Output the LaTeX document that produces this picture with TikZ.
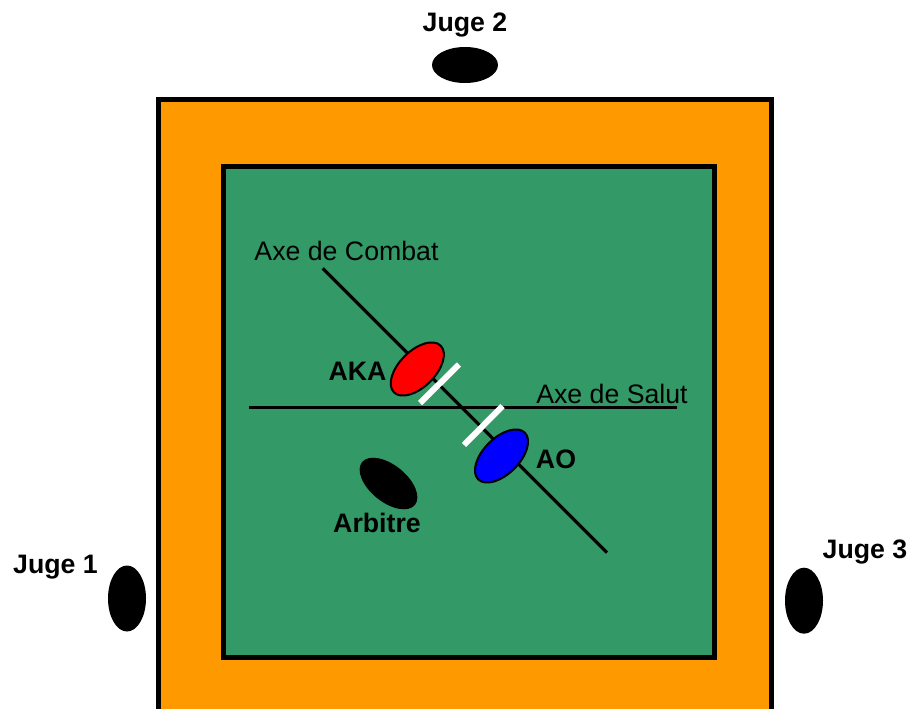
\documentclass[tikz,border=0pt]{standalone}
\usepackage{fontspec}
\setmainfont{Liberation Sans}
\usetikzlibrary{shapes.geometric}
\definecolor{matorange}{RGB}{255,153,0}
\definecolor{matgreen}{RGB}{51,153,102}
\begin{document}
\begin{tikzpicture}[x=1pt,y=-1pt,
  lbl/.style={font=\fontsize{26.7}{32}\selectfont, anchor=base, inner sep=0pt},
  blbl/.style={lbl, font=\fontsize{26.7}{32}\selectfont\bfseries},
  judge/.style={ellipse, fill=black, inner sep=0pt, outer sep=0pt, minimum width=38pt, minimum height=66pt},
  fighter/.style={ellipse, draw=black, line width=2pt, inner sep=0pt, outer sep=0pt, minimum width=66pt, minimum height=36pt, rotate=45},
  whitebar/.style={draw=white, line width=6pt},
  axis/.style={draw=black, line width=3.2pt}]
\useasboundingbox (0,0) rectangle (922,709);
\clip (0,0) rectangle (922,709);
% tatami
\fill[white] (0,0) rectangle (922,709);
\draw[fill=matorange, line width=5pt] (158.5,99.5) rectangle (771.5,780);
\draw[fill=matgreen, line width=4.5pt] (223.5,166.5) rectangle (714.5,657.5);
% axes
\coordinate (c1) at (322.7,268.3);
\coordinate (c2) at (607,552.6);
\coordinate (s1) at (249,407.5);
\coordinate (s2) at (677,407.5);
\draw[axis] (c1) -- (c2);
\draw[draw=black, line width=2.7pt] (s1) -- (s2);
\node[lbl] (axc) at (346.5,260) {Axe de Combat};
\node[lbl] (axs) at (612,403) {Axe de Salut};
% white bars
\coordinate (b1a) at (420,403);
\coordinate (b1b) at (459,364.5);
\coordinate (b2a) at (464,445);
\coordinate (b2b) at (502.5,406);
\draw[whitebar] (b1a) -- (b1b);
\draw[whitebar] (b2a) -- (b2b);
% fighters
\node[fighter, fill=red] (aka) at (417.3,369) {};
\node[fighter, fill=blue] (ao) at (501.5,456) {};
\node[blbl] (akal) at (357.5,380) {AKA};
\node[blbl] (aol) at (556,468.3) {AO};
% referee
\node[ellipse, fill=black, inner sep=0pt, outer sep=0pt, minimum width=68pt, minimum height=37pt, rotate=-39] (arb) at (388.5,483.5) {};
\node[blbl] (arbl) at (377,532.7) {Arbitre};
% judges
\node[judge, minimum width=66pt, minimum height=36pt] (j2) at (465,65) {};
\node[blbl] (j2l) at (465,32) {Juge 2};
\node[judge] (j1) at (127,598.5) {};
\node[blbl] (j1l) at (55.5,573) {Juge 1};
\node[judge] (j3) at (804,600.7) {};
\node[blbl] (j3l) at (865,558.3) {Juge 3};
\end{tikzpicture}
\end{document}
